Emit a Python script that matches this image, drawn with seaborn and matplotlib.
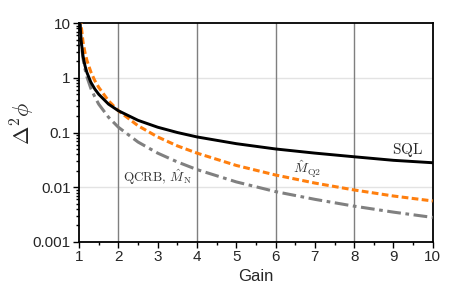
import numpy as np
import pandas as pd
import seaborn as sns
import matplotlib
matplotlib.use('Agg')
import matplotlib.pyplot as plt
from matplotlib.ticker import MultipleLocator, LogLocator, FixedFormatter, FixedLocator

# values
gain = [1.025, 1.05, 1.1, 1.15, 1.2, 1.3, 1.4, 1.5, 1.75, 2, 2.5, 3, 3.5, 4,
        5, 6, 7, 8, 9, 10]
sql = [10, 5, 2.5, 1.67, 1.25, 0.83, 0.625, 0.5, 0.33, 0.25, 0.167, 0.125,
       0.1, 0.083, 0.0625, 0.05, 0.042, 0.036, 0.031, 0.028]
mq2 = [19.5, 9.5, 4.55, 2.9, 2.08, 1.28, 0.89, 0.67, 0.38, 0.25, 0.133, 0.083,
       0.057, 0.042, 0.025, 0.0167, 0.0119, 0.0089, 0.0069, 0.0056]
qcrb = [9.75, 4.76, 2.27, 1.45, 1.04, 0.64, 0.45, 0.33, 0.19, 0.125, 0.067,
        0.042, 0.029, 0.021, 0.0125, 0.0083, 0.006, 0.0045, 0.0035, 0.0028]

sns.set_style('ticks')
plt.rcParams['font.family'] = ['Liberation Sans', 'DejaVu Sans']
plt.rcParams['mathtext.fontset'] = 'cm'

fig = plt.figure(figsize=(4.57, 2.89), dpi=100)
ax = fig.add_axes([0.173, 0.163, 0.774, 0.757])

df = pd.DataFrame({'Gain': gain, 'SQL': sql, 'MQ2': mq2, 'QCRB': qcrb})

# grid
for yv in [1, 0.1, 0.01]:
    ax.axhline(yv, color='#e3e3e3', lw=1, zorder=0)
for xv in [2, 4, 6, 8]:
    ax.axvline(xv, color='#7f7f7f', lw=1, zorder=1)

sns.lineplot(data=df, x='Gain', y='QCRB', ax=ax, color='#808080', lw=2.2,
             zorder=3)
ax.lines[-1].set_dashes([4.5, 1.5, 1.2, 1.5])
sns.lineplot(data=df, x='Gain', y='MQ2', ax=ax, color='#ff7f0e', lw=2.2,
             zorder=4)
ax.lines[-1].set_dashes([2.2, 1.1])
sns.lineplot(data=df, x='Gain', y='SQL', ax=ax, color='black', lw=2.1,
             zorder=5)

ax.set_yscale('log')
ax.set_xlim(1, 10)
ax.set_ylim(0.001, 10)

ax.xaxis.set_major_locator(MultipleLocator(1))
ax.xaxis.set_minor_locator(MultipleLocator(0.5))
ax.yaxis.set_major_locator(FixedLocator([0.001, 0.01, 0.1, 1, 10]))
ax.yaxis.set_major_formatter(FixedFormatter(['0.001', '0.01', '0.1', '1', '10']))
ax.yaxis.set_minor_locator(LogLocator(base=10, subs=np.arange(2, 10)))
ax.yaxis.set_minor_formatter(plt.NullFormatter())

ax.tick_params(which='major', direction='out', length=4, width=1,
               labelsize=11, color='black', pad=2)
ax.tick_params(which='minor', direction='out', length=2.5, width=1,
               color='black')
for s in ax.spines.values():
    s.set_linewidth(1.3)
    s.set_color('black')

ax.set_xlabel('Gain', fontsize=12)
ax.xaxis.set_label_coords(0.5, -0.125)
ax.set_ylabel(r'$\Delta^2\phi$', fontsize=16)
ax.yaxis.set_label_coords(-0.118, 0.54)

ax.text(9.35, 0.047, r'$\mathrm{SQL}$', fontsize=11, ha='center', va='center')
ax.text(3.0, 0.0155, r'$\mathrm{QCRB},\,\hat{M}_\mathrm{N}$', fontsize=9.5,
        ha='center', va='center', color='#333333')
ax.text(6.8, 0.021, r'$\hat{M}_\mathrm{Q2}$', fontsize=10, ha='center',
        va='center', color='#333333')

fig.savefig('out.png', dpi=100)
